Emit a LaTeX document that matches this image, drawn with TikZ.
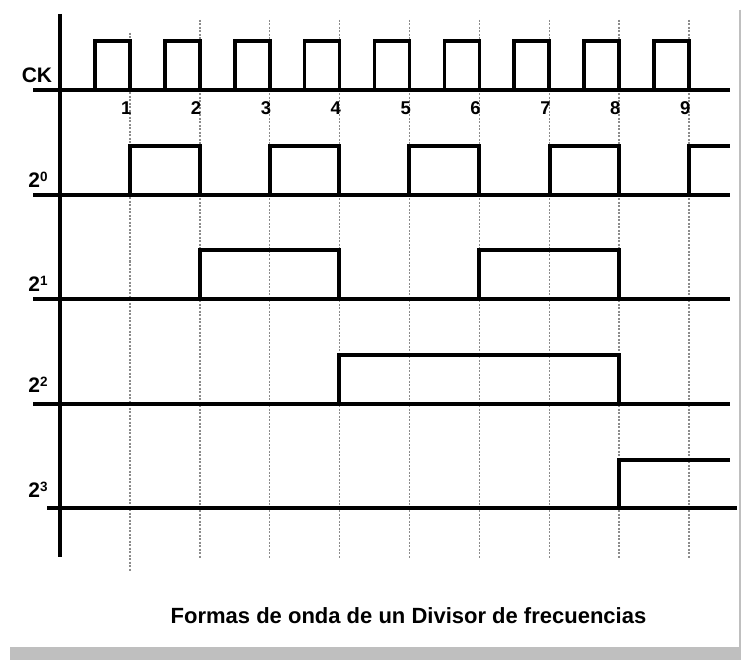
\documentclass[tikz,border=0pt]{standalone}
\usepackage{fontspec}
\setmainfont{Liberation Sans}
\begin{document}
\begin{tikzpicture}[x=1pt,y=-1pt,
  wave/.style={line width=3.6pt, line join=miter, line cap=butt},
  axisline/.style={line width=4pt},
  gridline/.style={black!45, line width=1.3pt, dash pattern=on 2pt off 1.5pt},
  lbl/.style={font=\bfseries\fontsize{21}{21}\selectfont, inner sep=0pt},
  num/.style={font=\bfseries\fontsize{18.5}{18.5}\selectfont, inner sep=0pt, anchor=east},
  captiontext/.style={font=\bfseries\fontsize{22}{22}\selectfont, inner sep=0pt},
]
\useasboundingbox (0,0) rectangle (741,660);
\fill[white] (0,0) rectangle (741,660);
% frame
\fill[black!25] (10,647) rectangle (741,660);
\draw[black!25, line width=1.5pt] (740,10) -- (740,647);

% dotted grid lines
\draw[gridline] (130,33) -- (130,572);
\foreach \n in {2,...,9}{
  \draw[gridline] ({130+69.875*(\n-1)},20) -- ({130+69.875*(\n-1)},558);
}

% axis
\draw[axisline] (60,14) -- (60,557);

% baselines
\draw[wave] (33,90) -- (730,90);
\draw[wave] (33,195) -- (730,195);
\draw[wave] (33,299) -- (730,299);
\draw[wave] (33,404) -- (730,404);
\draw[wave] (47,508) -- (737,508);

% CK pulses
\foreach \n in {1,...,9}{
  \pgfmathsetmacro{\xf}{130+69.875*(\n-1)}
  \draw[wave] ({\xf-35},90) -- ({\xf-35},41) -- (\xf,41) -- (\xf,90);
}

% 2^0
\foreach \a/\b in {130/200, 270/339, 409/479, 550/619}{
  \draw[wave] (\a,195) -- (\a,146) -- (\b,146) -- (\b,195);
}
\draw[wave] (689,195) -- (689,146) -- (730,146);

% 2^1
\foreach \a/\b in {200/339, 479/619}{
  \draw[wave] (\a,299) -- (\a,250) -- (\b,250) -- (\b,299);
}

% 2^2
\draw[wave] (339,404) -- (339,355) -- (619,355) -- (619,404);

% 2^3
\draw[wave] (619,508) -- (619,460) -- (730,460);

% labels
\node[lbl] (ck) at (37,75) {CK};
\node[lbl] (q0) at (38,180) {2\raisebox{0.55ex}{\fontsize{13.5}{13.5}\selectfont 0}};
\node[lbl] (q1) at (38,284) {2\raisebox{0.55ex}{\fontsize{13.5}{13.5}\selectfont 1}};
\node[lbl] (q2) at (38,385) {2\raisebox{0.55ex}{\fontsize{13.5}{13.5}\selectfont 2}};
\node[lbl] (q3) at (38,490) {2\raisebox{0.55ex}{\fontsize{13.5}{13.5}\selectfont 3}};

% tick numbers
\foreach \n in {1,...,9}{
  \node[num] (t\n) at ({130+69.875*(\n-1)+1.5},108.5) {\n};
}

% caption
\node[captiontext] (caption) at (408.5,616) {Formas de onda de un Divisor de frecuencias};
\end{tikzpicture}
\end{document}
